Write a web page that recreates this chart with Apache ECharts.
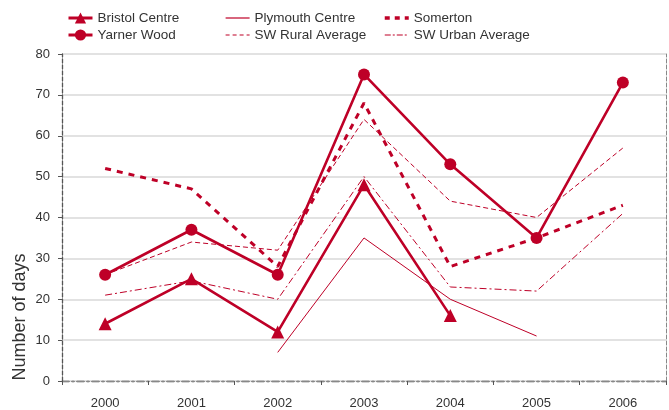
<!DOCTYPE html>
<html>
<head>
<meta charset="utf-8">
<script src="https://cdn.jsdelivr.net/npm/echarts@6/dist/echarts.min.js"></script>
<style>
html,body{margin:0;padding:0;background:#fff;}
#chart{width:669px;height:410px;}
</style>
</head>
<body>
<div id="chart"></div>
<script>
var years = ['2000','2001','2002','2003','2004','2005','2006'];
var bristolCentre   = [14, 25, 12, 48, 16, null, null];
var plymouthCentre  = [null, null, 7, 35, 20, 11, null];
var somerton        = [52, 47, 28, 68, 28, 35, 43];
var yarnerWood      = [26, 37, 26, 75, 53, 35, 73];
var swRuralAverage  = [26, 34, 32, 64, 44, 40, 57];
var swUrbanAverage  = [21, 24.5, 20, 50, 23, 22, 41];
var yTicks = [0, 10, 20, 30, 40, 50, 60, 70, 80];

var RED = '#be0027';
var FONT = 'Liberation Sans';
var chart = echarts.init(document.getElementById('chart'));

var legendText = {fontFamily: FONT, fontSize: 13.5, color: '#333'};
function legendItem(name, hideSymbol, lineStyle) {
  var it = {name: name};
  if (hideSymbol) it.itemStyle = {opacity: 0};
  if (lineStyle) it.lineStyle = lineStyle;
  return it;
}
function legendAt(left, items) {
  return {
    orient: 'vertical', left: left, top: 11, padding: 0, itemWidth: 24, itemHeight: 14, itemGap: 3,
    textStyle: legendText, data: items, selectedMode: false
  };
}

var option = {
  animation: false,
  backgroundColor: '#fff',
  textStyle: {fontFamily: FONT},
  legend: [
    legendAt(67, [legendItem('Bristol Centre', false, {width: 3}), legendItem('Yarner Wood', false, {width: 3})]),
    legendAt(225, [legendItem('Plymouth Centre', true, {width: 1.2}), legendItem('SW Rural Average', true, {width: 1.2, type: [4, 3]})]),
    legendAt(383, [legendItem('Somerton', true, {width: 3.5, type: [5, 5]}), legendItem('SW Urban Average', true, {width: 1.2, type: [6, 2, 2, 2]})])
  ],
  grid: {left: 62, right: 3, top: 54, bottom: 28},
  xAxis: [{
    type: 'category', data: years, boundaryGap: true,
    axisLine: {lineStyle: {color: '#555', width: 1.3, type: [7, 3, 2, 3]}},
    axisTick: {show: true, length: 4, lineStyle: {color: '#555'}},
    axisLabel: {color: '#333', fontSize: 13, margin: 16, fontFamily: FONT}
  }, {
    type: 'category', data: years, position: 'top',
    axisLine: {lineStyle: {color: '#888', width: 1, type: [7, 3, 2, 3]}},
    axisTick: {show: false}, axisLabel: {show: false}
  }],
  yAxis: [{
    type: 'value', min: 0, max: 80, interval: 10,
    axisLine: {show: true, lineStyle: {color: '#555', width: 1.3, type: [4, 2]}},
    axisTick: {show: true, length: 4, lineStyle: {color: '#555'}},
    axisLabel: {color: '#333', fontSize: 13, margin: 12, fontFamily: FONT},
    splitLine: {lineStyle: {color: '#d8d8d8', width: 1.6}}
  }, {
    type: 'value', min: 0, max: 80, interval: 10, position: 'right',
    axisLine: {show: true, lineStyle: {color: '#888', width: 1, type: [4, 2]}},
    axisTick: {show: false}, axisLabel: {show: false}, splitLine: {show: false}
  }],
  graphic: [{
    type: 'text', x: 20, y: 317, rotation: Math.PI / 2,
    style: {text: 'Number of days', fontSize: 18, fill: '#333', align: 'center', verticalAlign: 'middle',
      fontFamily: FONT}
  }],
  series: [
    {name: 'SW Urban Average', type: 'line', data: swUrbanAverage, symbol: 'none', z: 2,
      lineStyle: {color: RED, width: 1, type: [7, 3, 2, 3]}, itemStyle: {color: RED}},
    {name: 'SW Rural Average', type: 'line', data: swRuralAverage, symbol: 'none', z: 2,
      lineStyle: {color: RED, width: 1, type: [5, 3]}, itemStyle: {color: RED}},
    {name: 'Plymouth Centre', type: 'line', data: plymouthCentre, symbol: 'none', z: 2,
      lineStyle: {color: RED, width: 1}, itemStyle: {color: RED}},
    {name: 'Somerton', type: 'line', data: somerton, symbol: 'none', z: 3,
      lineStyle: {color: RED, width: 3, type: [6, 6]}, itemStyle: {color: RED}},
    {name: 'Bristol Centre', type: 'line', data: bristolCentre, symbol: 'triangle', symbolSize: 13, z: 4,
      lineStyle: {color: RED, width: 2.6}, itemStyle: {color: RED}},
    {name: 'Yarner Wood', type: 'line', data: yarnerWood, symbol: 'circle', symbolSize: 12, z: 4,
      lineStyle: {color: RED, width: 2.6}, itemStyle: {color: RED}}
  ]
};
chart.setOption(option);
</script>
</body>
</html>
